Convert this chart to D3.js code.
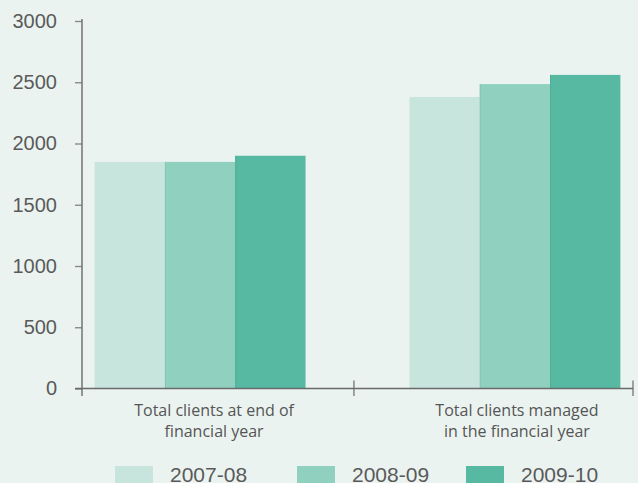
<!DOCTYPE html>
<html>
<head>
<meta charset="utf-8">
<script src="https://cdn.jsdelivr.net/npm/d3@7"></script>
<style>
  html, body { margin: 0; padding: 0; background: #ebf3f0; }
  svg { display: block; }
</style>
</head>
<body>
<svg id="chart" width="638" height="483"></svg>
<script>
// Client numbers by financial year
const categories = [
  ["Total clients at end of", "financial year"],
  ["Total clients managed", "in the financial year"]
];
const seriesNames = ["2007-08", "2008-09", "2009-10"];
const values2007 = [1850, 2380];
const values2008 = [1850, 2485];
const values2009 = [1900, 2560];
const yTicks = [0, 500, 1000, 1500, 2000, 2500, 3000];

const seriesValues = [values2007, values2008, values2009];
const colors = ["#c8e5dd", "#90d0be", "#58b9a2"];
const edgeColors = [null, "#80c8b4", "#4dae96"];

const svg = d3.select("#chart");
const W = 638, H = 483;
svg.append("rect").attr("width", W).attr("height", H).attr("fill", "#ebf3f0");

const axisX = 82, axisRight = 633, baseY = 388.5, topY = 21;

const y = d3.scaleLinear().domain([0, 3000]).range([baseY, topY]);
const x0 = d3.scaleBand()
  .domain(d3.range(categories.length))
  .range([axisX, axisRight])
  .paddingInner(0.33)
  .paddingOuter(0.04);
const x1 = d3.scaleBand()
  .domain(d3.range(seriesNames.length))
  .range([0, x0.bandwidth()]);

// Bars
const groups = svg.append("g").selectAll("g")
  .data(d3.range(categories.length))
  .join("g")
  .attr("transform", i => `translate(${x0(i)},0)`);

const barData = ci => seriesValues.map((vals, si) => ({ si, v: vals[ci] }));

groups.selectAll("rect")
  .data(barData)
  .join("rect")
  .attr("x", d => x1(d.si))
  .attr("y", d => y(d.v))
  .attr("width", x1.bandwidth())
  .attr("height", d => y(0) - y(d.v))
  .attr("fill", d => colors[d.si]);

// thin darker edge on the left side of the later-year bars
groups.selectAll("line.edge")
  .data(ci => barData(ci).filter(d => edgeColors[d.si]))
  .join("line")
  .attr("class", "edge")
  .attr("x1", d => x1(d.si) + 0.5).attr("x2", d => x1(d.si) + 0.5)
  .attr("y1", d => y(d.v)).attr("y2", y(0))
  .attr("stroke", d => edgeColors[d.si])
  .attr("stroke-width", 1);

// Y axis
const yAxis = d3.axisLeft(y).tickValues(yTicks).tickSize(7).tickPadding(18).tickFormat(d3.format("d"));
const gy = svg.append("g").attr("transform", `translate(${axisX},0)`).call(yAxis);
gy.select(".domain").remove();
gy.selectAll(".tick line").attr("stroke", "#8a8a8a").attr("stroke-width", 1.4);
gy.selectAll(".tick text")
  .attr("fill", "#5a5a5a")
  .style("font-family", "'Liberation Sans', Arial, sans-serif")
  .style("font-size", "20px");

const axisColor = "#6a6a6a";
// vertical axis line
svg.append("line")
  .attr("x1", axisX).attr("x2", axisX)
  .attr("y1", y(3000) - 2).attr("y2", baseY + 7.5)
  .attr("stroke", axisColor).attr("stroke-width", 1.4);
// horizontal axis line
svg.append("line")
  .attr("x1", axisX - 7).attr("x2", axisRight)
  .attr("y1", baseY).attr("y2", baseY)
  .attr("stroke", axisColor).attr("stroke-width", 1.4);

// category divider ticks
const divTicks = [x0(1) - 55.5, axisRight];
svg.append("g").selectAll("line")
  .data(divTicks)
  .join("line")
  .attr("x1", d => d).attr("x2", d => d)
  .attr("y1", baseY - 8).attr("y2", baseY + 7.5)
  .attr("stroke", axisColor).attr("stroke-width", 1.2);

// Category labels
const labelShift = [14, 2];
const catLabels = svg.append("g").selectAll("text")
  .data(categories)
  .join("text")
  .attr("x", (d, i) => x0(i) + x0.bandwidth() / 2 + labelShift[i])
  .attr("y", 416)
  .attr("text-anchor", "middle")
  .attr("fill", "#555")
  .style("font-family", "'Open Sans', sans-serif")
  .style("font-size", "16px");
catLabels.selectAll("tspan")
  .data(d => d)
  .join("tspan")
  .attr("x", function () { return d3.select(this.parentNode).attr("x"); })
  .attr("dy", (d, i) => i === 0 ? 0 : 21)
  .text(d => d);

// Legend
const legendX = [115, 297, 466];
const legend = svg.append("g").selectAll("g")
  .data(seriesNames)
  .join("g")
  .attr("transform", (d, i) => `translate(${legendX[i]},466)`);
legend.append("rect")
  .attr("width", 38).attr("height", 17)
  .attr("fill", (d, i) => colors[i]);
legend.append("text")
  .attr("x", 55).attr("y", 15.5)
  .attr("fill", "#5a5a5a")
  .style("font-family", "'Liberation Sans', Arial, sans-serif")
  .style("font-size", "21px")
  .text(d => d);
</script>
</body>
</html>
